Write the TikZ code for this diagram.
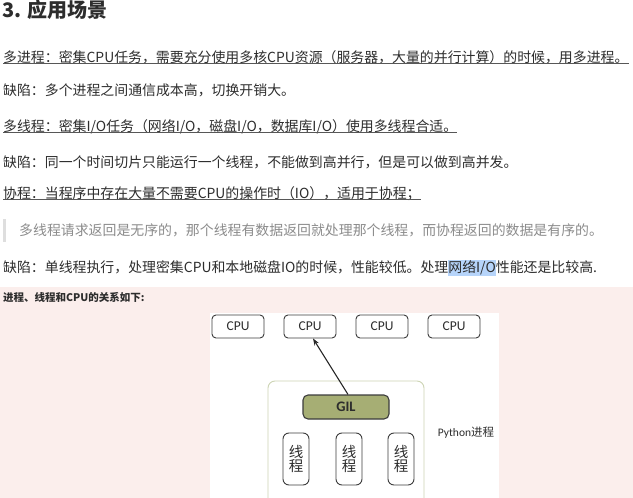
\documentclass[tikz,border=0pt]{standalone}
\usepackage{fontspec}
\setmainfont{Noto Sans CJK SC}
\newfontfamily\calfont{Carlito}
\usetikzlibrary{arrows.meta}
\definecolor{txt}{RGB}{45,45,45}
\definecolor{qtxt}{RGB}{140,140,140}
\definecolor{qbar}{RGB}{222,222,222}
\definecolor{hl}{RGB}{182,212,250}
\definecolor{pinkbg}{RGB}{251,238,236}
\definecolor{procline}{RGB}{205,212,180}
\definecolor{gilfill}{RGB}{166,174,116}
\definecolor{boxline}{RGB}{60,60,60}
\tikzset{
  line/.style={anchor=base west, inner sep=0pt, text=txt, font=\fontsize{13.9}{17}\selectfont},
  uline/.style={draw=txt!80, line width=0.8pt},
  cpubox/.style={draw=boxline, fill=white, rounded corners=4pt, line width=0.9pt,
    minimum width=52pt, minimum height=23pt, inner sep=0pt, text=txt,
    font=\calfont\fontsize{13.5}{13.5}\selectfont},
  thbox/.style={draw=boxline, fill=white, rounded corners=6pt, line width=0.9pt,
    minimum width=26pt, minimum height=52pt, inner sep=0pt, text=txt, align=center,
    font=\fontsize{14.5}{13.5}\selectfont},
}
\begin{document}
\begin{tikzpicture}[x=1pt,y=-1pt]
\useasboundingbox (0,0) rectangle (633,498);
\clip (0,0) rectangle (633,498);
\fill[white] (0,0) rectangle (633,498);
% title
\node[anchor=base west, inner sep=0pt, text=txt, font=\bfseries\fontsize{20}{24}\selectfont] (title) at (2,17.5) {3. 应用场景};
% lines
\node[line] (l1) at (3,62) {多进程：密集CPU任务，需要充分使用多核CPU资源（服务器，大量的并行计算）的时候，用多进程。};
\draw[uline] ([yshift=-1.5pt]l1.base west) -- ([yshift=-1.5pt]l1.base east);
\node[line] (l2) at (3,95) {缺陷：多个进程之间通信成本高，切换开销大。};
\node[line] (l3) at (3,131) {多线程：密集I/O任务（网络I/O，磁盘I/O，数据库I/O）使用多线程合适。};
\draw[uline] ([yshift=-1.5pt]l3.base west) -- ([yshift=-1.5pt]l3.base east);
\node[line] (l4) at (3,167) {缺陷：同一个时间切片只能运行一个线程，不能做到高并行，但是可以做到高并发。};
\node[line] (l5) at (3,198) {协程：当程序中存在大量不需要CPU的操作时（IO），适用于协程；};
\draw[uline] ([yshift=-1.5pt]l5.base west) -- ([yshift=-1.5pt]l5.base east);
% blockquote
\fill[qbar] (3,219) rectangle (5.5,242);
\node[line, text=qtxt] (q) at (19,235) {多线程请求返回是无序的，那个线程有数据返回就处理那个线程，而协程返回的数据是有序的。};
\node[line] (l7) at (3,272) {缺陷：单线程执行，处理密集CPU和本地磁盘IO的时候，性能较低。处理{\setlength{\fboxsep}{0pt}\colorbox{hl}{\rule[-4pt]{0pt}{16.5pt}网络I/O}}性能还是比较高.};
% pink area
\fill[pinkbg] (0,287) rectangle (633,498);
\node[anchor=base west, inner sep=0pt, text=txt, font=\bfseries\fontsize{10.5}{12}\selectfont] (head) at (3,301) {进程、线程和CPU的关系如下:};
\fill[white] (210,313) rectangle (499,498);
% diagram
\node[cpubox] (cpu1) at (238,326.5) {CPU};
\node[cpubox] (cpu2) at (310,326.5) {CPU};
\node[cpubox] (cpu3) at (382,326.5) {CPU};
\node[cpubox] (cpu4) at (454,326.5) {CPU};
\draw[draw=procline, fill=white, rounded corners=7pt, line width=0.9pt] (268,381) rectangle (424,520);
\node[draw=boxline, fill=gilfill, rounded corners=5pt, line width=1.1pt, minimum width=86pt,
  minimum height=24pt, inner sep=0pt, text=txt, font=\calfont\bfseries\fontsize{14.5}{14.5}\selectfont] (gil) at (346,407) {GIL};
\node[thbox] (t1) at (296,459) {线\\程};
\node[thbox] (t2) at (349,459) {线\\程};
\node[thbox] (t3) at (401,459) {线\\程};
\node[inner sep=0pt, text=txt, font=\fontsize{11.5}{11.5}\selectfont] (py) at (466,433) {{\calfont Python}进程};
\draw[-{Stealth[length=7pt,width=5pt]}, line width=1.1pt, draw=black!85] ([xshift=2pt]gil.north) -- ([xshift=3pt]cpu2.south);
\end{tikzpicture}
\end{document}
